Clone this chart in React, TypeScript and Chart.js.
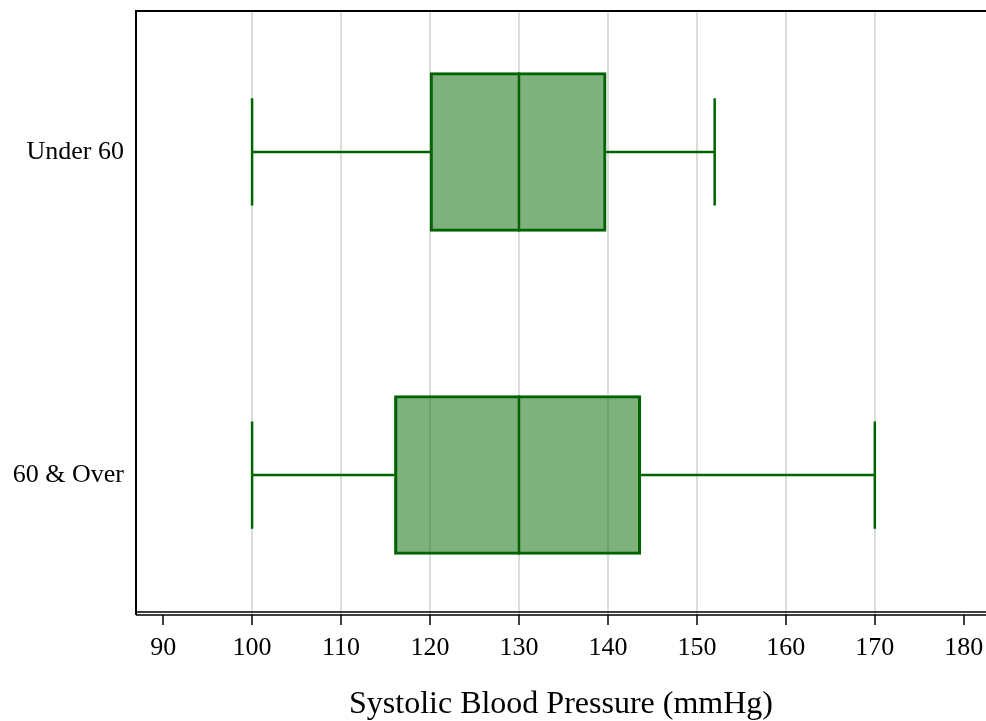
import React, { useEffect, useRef } from "react";
import { Chart, registerables } from "chart.js";

Chart.register(...registerables);

const categories = ["Under 60", "60 & Over"];
const mins = [100, 100];
const q1s = [120, 116];
const medians = [130, 130];
const q3s = [139.8, 143.7];
const maxs = [152, 170];
const xTicks = [90, 100, 110, 120, 130, 140, 150, 160, 170, 180];
const gridValues = [100, 110, 120, 130, 140, 150, 160, 170];
const xTitle = "Systolic Blood Pressure (mmHg)";

const GREEN = "#006400";
const FILL = "rgba(0,100,0,0.5)";
const CAP_HALF = 0.166;
const BOX_HALF = 0.246;
const FONT = "'Liberation Serif', 'Times New Roman', serif";

const framePlugin = {
  id: "frame",
  afterDraw(chart: any) {
    const { ctx, chartArea } = chart;
    const { left, top, right, bottom } = chartArea;
    ctx.save();
    ctx.strokeStyle = "#000";
    ctx.lineWidth = 2;
    ctx.beginPath();
    ctx.moveTo(left, bottom);
    ctx.lineTo(left, top);
    ctx.lineTo(right, top);
    ctx.stroke();
    ctx.lineWidth = 1.5;
    ctx.beginPath();
    ctx.moveTo(left, bottom - 3);
    ctx.lineTo(right, bottom - 3);
    ctx.moveTo(left, bottom);
    ctx.lineTo(right, bottom);
    ctx.stroke();
    ctx.restore();
  },
};

function seg(x1: number, y1: number, x2: number, y2: number) {
  return {
    type: "line" as const,
    data: [
      { x: x1, y: y1 },
      { x: x2, y: y2 },
    ],
    borderColor: GREEN,
    borderWidth: 2.5,
    pointRadius: 0,
    fill: false,
    order: 1,
  };
}

export default function App() {
  const ref = useRef<HTMLCanvasElement | null>(null);
  useEffect(() => {
    if (!ref.current) return;
    const lineSets: any[] = [];
    categories.forEach((_, i) => {
      lineSets.push(seg(mins[i], i, q1s[i], i));
      lineSets.push(seg(q3s[i], i, maxs[i], i));
      lineSets.push(seg(mins[i], i - CAP_HALF, mins[i], i + CAP_HALF));
      lineSets.push(seg(maxs[i], i - CAP_HALF, maxs[i], i + CAP_HALF));
      lineSets.push(seg(medians[i], i - BOX_HALF, medians[i], i + BOX_HALF));
    });
    const chart = new Chart(ref.current, {
      type: "bar",
      data: {
        datasets: [
          {
            type: "bar",
            data: categories.map((_, i) => ({ x: [q1s[i], q3s[i]], y: i })) as any,
            backgroundColor: FILL,
            borderColor: GREEN,
            borderWidth: 2.5,
            borderSkipped: false,
            barThickness: 159,
            order: 2,
          } as any,
          ...lineSets,
        ],
      },
      options: {
        indexAxis: "y",
        animation: false,
        responsive: true,
        maintainAspectRatio: false,
        layout: { padding: { top: 11, left: 0, right: 0, bottom: 0 } },
        plugins: { legend: { display: false }, tooltip: { enabled: false } },
        scales: {
          x: {
            type: "linear",
            min: 86.95,
            max: 182.5,
            offset: false,
            afterBuildTicks: (s: any) => {
              s.ticks = xTicks.map((v) => ({ value: v }));
            },
            afterFit: (s: any) => {
              s.height = 106;
              s.paddingLeft = 0;
              s.paddingRight = 0;
            },
            border: { display: false },
            grid: {
              color: (c: any) =>
                c.tick && gridValues.includes(c.tick.value) ? "#dcdcdc" : "transparent",
              lineWidth: 2,
              tickColor: "#000",
              tickLength: 10,
              tickWidth: 1.5,
              drawTicks: true,
              offset: false,
            },
            ticks: {
              color: "#000",
              font: { family: FONT, size: 26 },
              padding: 8,
              maxRotation: 0,
              autoSkip: false,
            },
            title: {
              display: true,
              text: xTitle,
              color: "#000",
              font: { family: FONT, size: 32, lineHeight: 1 },
              padding: { top: 0, bottom: 0 },
            },
          },
          y: {
            type: "linear",
            min: -0.4365,
            max: 1.4334,
            reverse: true,
            offset: false,
            afterBuildTicks: (s: any) => {
              s.ticks = categories.map((_, i) => ({ value: i }));
            },
            afterFit: (s: any) => {
              s.width = 136;
              s.paddingTop = 0;
              s.paddingBottom = 0;
            },
            border: { display: false },
            grid: { display: false, drawTicks: false, offset: false },
            ticks: {
              color: "#000",
              font: { family: FONT, size: 26 },
              padding: 12,
              callback: (v: any) => categories[Math.round(Number(v))] ?? "",
            },
          },
        },
      } as any,
      plugins: [framePlugin],
    });
    return () => chart.destroy();
  }, []);
  return (
    <div style={{ position: "absolute", left: 0, top: 0, width: 986, height: 721 }}>
      <canvas ref={ref} />
    </div>
  );
}
